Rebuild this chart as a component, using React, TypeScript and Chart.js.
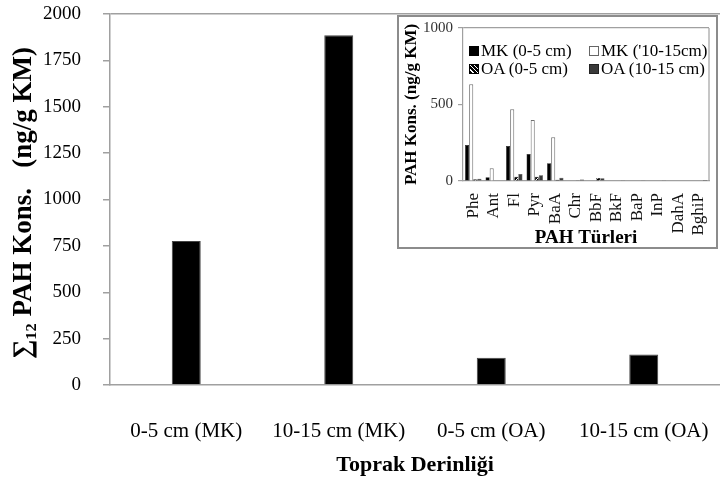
import React, { useEffect, useRef } from "react";
import { Chart, registerables } from "chart.js";
Chart.register(...registerables);

// ---------- Main chart data ----------
const depthCategories = ["0-5 cm (MK)", "10-15 cm (MK)", "0-5 cm (OA)", "10-15 cm (OA)"];
const totalPah = [776, 1885, 147, 165];
const mainYMax = 2000;
const mainYStep = 250;

// ---------- Inset chart data ----------
const pahTypes = ["Phe", "Ant", "Fl", "Pyr", "BaA", "Chr", "BbF", "BkF", "BaP", "InP", "DahA", "BghiP"];
const seriesLabels = ["MK (0-5 cm)", "MK ('10-15cm)", "OA (0-5 cm)", "OA (10-15 cm)"];
const mk05 = [235, 24, 229, 176, 116, 0, 0, 0, 0, 0, 0, 0];
const mk1015 = [632, 83, 469, 399, 286, 0, 0, 0, 0, 0, 0, 0];
const oa05 = [12, 0, 28, 28, 8, 5, 20, 3, 3, 4, 0, 4];
const oa1015 = [14, 0, 46, 37, 22, 10, 18, 5, 5, 5, 0, 6];
const insetYMax = 1000;
const insetYStep = 500;

const serif = "'Liberation Serif', 'Times New Roman', serif";
const axisGray = "#a0a0a0";

function makeHatch(): CanvasPattern | string {
  const c = document.createElement("canvas");
  c.width = 4;
  c.height = 4;
  const g = c.getContext("2d");
  if (!g) return "#222";
  g.fillStyle = "#000";
  g.fillRect(0, 0, 4, 4);
  g.strokeStyle = "#fff";
  g.lineWidth = 1;
  g.beginPath();
  g.moveTo(0, 4);
  g.lineTo(4, 0);
  g.stroke();
  const p = g.createPattern(c, "repeat");
  return p || "#222";
}

const rightBorderPlugin = {
  id: "rightBorder",
  afterDraw(chart: any) {
    const { ctx, chartArea } = chart;
    ctx.save();
    ctx.strokeStyle = axisGray;
    ctx.lineWidth = 1.2;
    ctx.beginPath();
    ctx.moveTo(chartArea.right, chartArea.top);
    ctx.lineTo(chartArea.right, chartArea.bottom);
    ctx.stroke();
    ctx.restore();
  },
};

const noPad = (s: any) => {
  s.paddingTop = 0;
  s.paddingBottom = 0;
  s.paddingLeft = 0;
  s.paddingRight = 0;
};

const plainTick = (v: any) => String(v);

const legendSwatches = [
  { background: "#000", border: "1px solid #000" },
  { background: "#fff", border: "1px solid #666" },
  { background: "repeating-linear-gradient(45deg, #000 0 2px, #fff 2px 3px)", border: "1px solid #000" },
  { background: "#3a3a3a", border: "1px solid #222" },
];
const legendPos = [
  { left: 70, top: 24 },
  { left: 190, top: 24 },
  { left: 70, top: 42 },
  { left: 190, top: 42 },
];

export default function App() {
  const mainRef = useRef<HTMLCanvasElement>(null);
  const insetRef = useRef<HTMLCanvasElement>(null);

  useEffect(() => {
    const main = new Chart(mainRef.current as HTMLCanvasElement, {
      type: "bar",
      data: {
        labels: depthCategories,
        datasets: [
          {
            data: totalPah,
            backgroundColor: "#000",
            borderColor: "#444",
            borderWidth: 1,
            barPercentage: 0.19,
            categoryPercentage: 1,
          },
        ],
      },
      options: {
        responsive: false,
        animation: false,
        devicePixelRatio: 1,
        layout: { padding: { top: 14, right: 0, left: 0, bottom: 0 } },
        plugins: { legend: { display: false }, tooltip: { enabled: false } },
        scales: {
          x: {
            grid: { display: false },
            border: { color: axisGray, width: 1.5 },
            ticks: { font: { family: serif, size: 21 }, color: "#000", padding: 26, maxRotation: 0, autoSkip: false },
            title: {
              display: true,
              text: "Toprak Derinliği",
              font: { family: serif, size: 22, weight: "bold" },
              color: "#000",
              padding: { top: 0, bottom: 0 },
            },
            afterFit: (s: any) => {
              s.height = 94;
              noPad(s);
            },
          },
          y: {
            min: 0,
            max: mainYMax,
            ticks: { stepSize: mainYStep, font: { family: serif, size: 19 }, color: "#000", padding: 22, callback: plainTick },
            grid: {
              color: (ctx: any) => (ctx.tick && ctx.tick.value === mainYMax ? axisGray : "rgba(0,0,0,0)"),
              tickColor: axisGray,
              tickLength: 7,
              lineWidth: 1.5,
            },
            border: { color: axisGray, width: 1.5 },
            title: {
              display: true,
              text: "∑₁₂ PAH Kons.   (ng/g KM) ",
              font: { family: serif, size: 27, weight: "bold" },
              color: "#000",
              padding: { top: 8, bottom: 0 },
            },
            afterFit: (s: any) => {
              s.width = 110;
              noPad(s);
            },
          },
        },
      },
    } as any);

    const inset = new Chart(insetRef.current as HTMLCanvasElement, {
      type: "bar",
      data: {
        labels: pahTypes,
        datasets: [
          { label: seriesLabels[0], data: mk05, backgroundColor: "#000", borderColor: "#000", borderWidth: 0.5 },
          { label: seriesLabels[1], data: mk1015, backgroundColor: "#fff", borderColor: "#707070", borderWidth: 1 },
          { label: seriesLabels[2], data: oa05, backgroundColor: makeHatch(), borderColor: "#000", borderWidth: 0.5 },
          { label: seriesLabels[3], data: oa1015, backgroundColor: "#3a3a3a", borderColor: "#222", borderWidth: 0.5 },
        ],
      },
      options: {
        responsive: false,
        animation: false,
        devicePixelRatio: 1,
        datasets: { bar: { barPercentage: 1, categoryPercentage: 0.8 } },
        layout: { padding: { top: 11, right: 7, left: 0, bottom: 0 } },
        plugins: { legend: { display: false }, tooltip: { enabled: false } },
        scales: {
          x: {
            grid: { display: false },
            border: { color: axisGray, width: 1.2 },
            ticks: {
              font: { family: serif, size: 17 },
              color: "#111",
              padding: 4,
              minRotation: 90,
              maxRotation: 90,
              autoSkip: false,
            },
            title: {
              display: true,
              text: "PAH Türleri",
              font: { family: serif, size: 19, weight: "bold" },
              color: "#000",
              padding: { top: 0, bottom: -2 },
            },
            afterFit: (s: any) => {
              s.height = 66;
              noPad(s);
            },
          },
          y: {
            min: 0,
            max: insetYMax,
            ticks: { stepSize: insetYStep, font: { family: serif, size: 15 }, color: "#333", padding: 5, callback: plainTick },
            grid: {
              color: (ctx: any) => (ctx.tick && ctx.tick.value === insetYMax ? axisGray : "rgba(0,0,0,0)"),
              tickColor: axisGray,
              tickLength: 5,
              lineWidth: 1.2,
            },
            border: { color: axisGray, width: 1.2 },
            title: {
              display: true,
              text: "PAH Kons. (ng/g KM)",
              font: { family: serif, size: 17, weight: "bold" },
              color: "#000",
              padding: { top: 2, bottom: 0 },
            },
            afterFit: (s: any) => {
              s.width = 64;
              noPad(s);
            },
          },
        },
      },
      plugins: [rightBorderPlugin],
    } as any);

    return () => {
      main.destroy();
      inset.destroy();
    };
  }, []);

  return (
    <div style={{ position: "fixed", left: 0, top: 0, width: 720, height: 479, background: "#fff", overflow: "hidden" }}>
      <canvas ref={mainRef} width={720} height={479} style={{ position: "absolute", left: 0, top: 0 }} />
      <div
        style={{
          position: "absolute",
          left: 397,
          top: 15,
          width: 321,
          height: 234,
          boxSizing: "border-box",
          border: "2px solid #8c8c8c",
          background: "#fff",
        }}
      >
        <canvas ref={insetRef} width={317} height={230} style={{ position: "absolute", left: 0, top: 0 }} />
        {seriesLabels.map((lab, i) => (
          <div
            key={lab}
            style={{
              position: "absolute",
              left: legendPos[i].left,
              top: legendPos[i].top,
              height: 20,
              display: "flex",
              alignItems: "center",
              whiteSpace: "nowrap",
              fontFamily: serif,
              fontSize: 17,
              color: "#000",
            }}
          >
            <span
              style={{
                display: "inline-block",
                width: 8,
                height: 8,
                marginRight: 2,
                background: legendSwatches[i].background,
                border: legendSwatches[i].border,
              }}
            />
            {lab}
          </div>
        ))}
      </div>
    </div>
  );
}
